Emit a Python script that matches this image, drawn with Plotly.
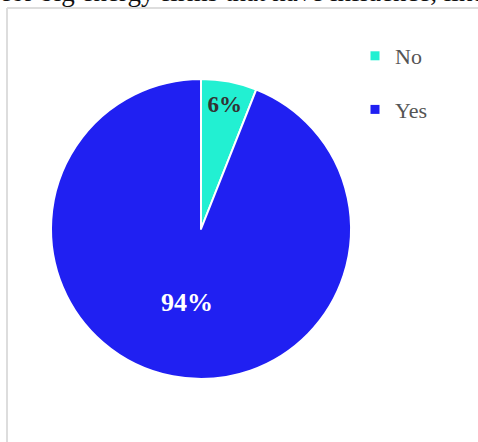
import plotly.graph_objects as go

# Survey answers and their shares
categories = ["No", "Yes"]
shares = [6, 94]
slice_colors = ["#22F0D2", "#2020F2"]
label_colors = ["#333333", "#FFFFFF"]
heading = "for big energy firms that have influence, like"

W, H = 478, 442
SERIF = "Liberation Serif, Times New Roman, serif"

fig = go.Figure()

fig.add_trace(go.Pie(
    labels=categories,
    values=shares,
    sort=False,
    direction="clockwise",
    rotation=0,
    marker=dict(colors=slice_colors, line=dict(color="#FFFFFF", width=2)),
    texttemplate="%{value}%",
    textposition="inside",
    insidetextorientation="horizontal",
    insidetextfont=dict(family=SERIF, size=[23, 26], color=label_colors,
                        weight="bold"),
    showlegend=False,
    hoverinfo="label+percent",
    domain=dict(x=[51 / W, 351 / W], y=[1 - 379 / H, 1 - 79 / H]),
))

# Legend entries, one group each so the rows can be spaced apart
for name, color in zip(categories, slice_colors):
    fig.add_trace(go.Scatter(
        x=[None], y=[None], mode="markers", name=name, legendgroup=name,
        marker=dict(symbol="square", size=9, color=color),
    ))

fig.update_layout(
    width=W, height=H,
    margin=dict(l=0, r=0, t=0, b=0),
    paper_bgcolor="#FFFFFF",
    plot_bgcolor="#FFFFFF",
    xaxis=dict(visible=False),
    yaxis=dict(visible=False),
    legend=dict(
        x=355 / W, y=1 - 35 / H, xanchor="left", yanchor="top",
        font=dict(family=SERIF, size=22, color="#555555"),
        tracegroupgap=22, itemwidth=30, bgcolor="rgba(0,0,0,0)",
    ),
    shapes=[
        dict(type="line", xref="paper", yref="paper",
             x0=7 / W, x1=7 / W, y0=0, y1=1 - 8 / H,
             line=dict(color="#DDDDDD", width=2)),
        dict(type="line", xref="paper", yref="paper",
             x0=7 / W, x1=1, y0=1 - 8 / H, y1=1 - 8 / H,
             line=dict(color="#DDDDDD", width=2)),
    ],
    annotations=[
        dict(text=heading, xref="paper", yref="paper", x=0, y=1 - 9 / H,
             xanchor="left", yanchor="bottom", showarrow=False,
             font=dict(family=SERIF, size=27, color="#111111")),
    ],
)

fig.write_html("out.html")
